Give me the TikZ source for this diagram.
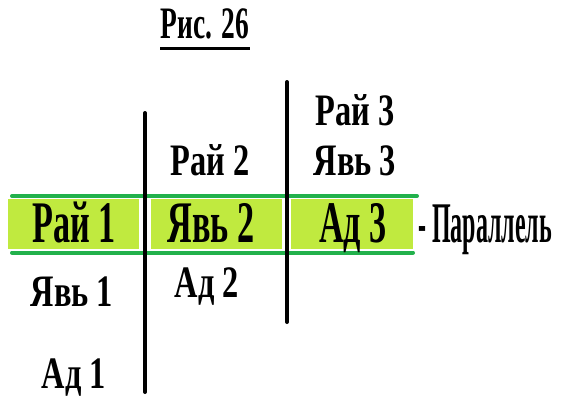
\documentclass[tikz,border=0pt]{standalone}
\usepackage{fontspec}
\setmainfont{Liberation Serif}
\usepackage{graphicx}
\usetikzlibrary{
		positioning
	}
\definecolor{rowgreen}{RGB}{34,177,76}
\definecolor{rowlime}{RGB}{181,230,29}
\newcommand{\slim}[1]{\scalebox{0.72}[1]{#1}}
\newcommand{\tall}[1]{\scalebox{0.76}[1.31]{#1}}
\tikzset{
		word/.style={font=\bfseries\fontsize{45}{45}\selectfont, inner sep=0pt, anchor=base},
		bar/.style={line width=4pt, line cap=round},
		rowline/.style={line width=4pt, draw=rowgreen, line cap=round},
		patch/.style={fill=rowlime!85!white}
	}
\begin{document}
\begin{tikzpicture}[x=1pt,y=-1pt]
    \useasboundingbox (0,0) rectangle (574,410);

    % the highlighted row
    \fill[patch] (8,199) rectangle (139,249);
    \fill[patch] (151,199) rectangle (282,249);
    \fill[patch] (291,199) rectangle (413,249);
    \draw[rowline] (12,196) -- (417,196);
    \draw[rowline] (12,252.5) -- (413,252.5);

    % the columns
    \draw[bar] (145,113) -- (145,392);
    \draw[bar] (287,82) -- (287,322);

    % the title
    \node[word] (title) at (205,38) {\scalebox{0.61}[1]{Рис. 26}};
    \draw[line width=3pt] (160,48) -- (250,48);

    % the words in the columns
    \node[word] (raj3) at (355,125) {\slim{Рай 3}};
    \node[word] (raj2) at (210,175) {\slim{Рай 2}};
    \node[word] (jav3) at (355,175) {\slim{Явь 3}};
    \node[word] (raj1) at (74,242) {\tall{Рай 1}};
    \node[word] (jav2) at (211,242) {\tall{Явь 2}};
    \node[word] (ad3) at (353,242) {\tall{Ад 3}};
    \node[word] (jav1) at (72,306) {\slim{Явь 1}};
    \node[word] (ad2) at (207,297) {\slim{Ад 2}};
    \node[word] (ad1) at (74,388) {\slim{Ад 1}};

    % the label of the row
    \node[word, anchor=base west, font=\bfseries\fontsize{50}{50}\selectfont] (par) at (418,242) {\scalebox{0.48}[1.15]{- Параллель}};

\end{tikzpicture}
\end{document}
